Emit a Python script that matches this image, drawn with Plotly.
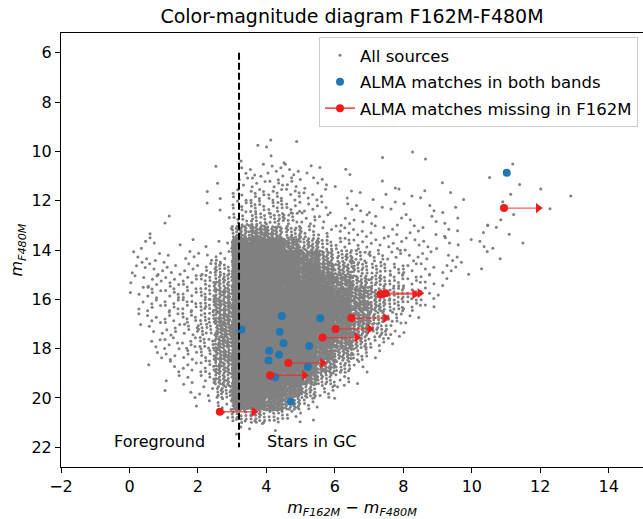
import plotly.graph_objects as go

# ---------------- data ----------------
# "All sources": approximate number of sources per cell of the colour-magnitude plane.
# Cells are 0.5 mag wide in colour (starting at -0.5) and 0.5 mag tall (starting at 9.5).
cell_color_start = -0.5
cell_color_step = 0.5
cell_mag_start = 9.5
cell_mag_step = 0.5
source_counts = [
    [0, 0, 0, 0, 0, 0, 0, 0, 1, 2, 1, 0, 0, 0, 0, 0, 0, 0, 0, 0, 0, 0, 0, 0, 0, 0, 0],
    [0, 0, 0, 0, 0, 0, 0, 1, 0, 1, 1, 0, 0, 0, 0, 1, 0, 1, 1, 0, 0, 0, 0, 0, 0, 0, 0],
    [0, 0, 0, 0, 0, 0, 1, 2, 3, 4, 4, 2, 1, 2, 0, 0, 0, 0, 0, 0, 0, 0, 0, 1, 0, 0, 0],
    [0, 0, 0, 0, 0, 0, 1, 3, 5, 6, 5, 3, 2, 1, 0, 1, 1, 0, 0, 1, 0, 0, 1, 1, 0, 0, 0],
    [0, 0, 0, 0, 0, 1, 1, 5, 8, 8, 6, 4, 2, 2, 1, 2, 1, 1, 2, 1, 1, 0, 0, 1, 0, 1, 1],
    [0, 0, 0, 0, 0, 1, 1, 7, 10, 10, 7, 4, 3, 2, 2, 2, 2, 1, 2, 1, 1, 0, 1, 0, 0, 1, 0],
    [0, 0, 0, 2, 0, 0, 1, 9, 14, 14, 10, 6, 3, 3, 3, 2, 2, 2, 2, 1, 1, 1, 1, 1, 0, 0, 0],
    [0, 0, 1, 0, 0, 0, 1, 26, 36, 30, 18, 9, 5, 4, 4, 3, 3, 3, 2, 2, 1, 2, 1, 1, 0, 0, 0],
    [0, 2, 2, 1, 1, 1, 3, 72, 95, 80, 42, 22, 12, 8, 5, 4, 4, 3, 3, 2, 2, 2, 1, 1, 0, 0, 0],
    [0, 3, 3, 2, 3, 3, 6, 105, 115, 105, 74, 46, 28, 18, 11, 8, 5, 4, 3, 2, 2, 1, 1, 0, 0, 0, 0],
    [0, 3, 4, 4, 4, 6, 14, 112, 120, 112, 90, 62, 40, 26, 17, 12, 8, 5, 4, 3, 2, 1, 0, 0, 0, 0, 0],
    [0, 3, 5, 5, 6, 10, 22, 120, 125, 120, 105, 80, 58, 40, 26, 17, 10, 6, 4, 2, 0, 0, 0, 0, 0, 0, 0],
    [0, 3, 6, 6, 7, 12, 30, 125, 130, 125, 115, 95, 75, 56, 38, 22, 13, 7, 4, 1, 0, 0, 0, 0, 0, 0, 0],
    [0, 2, 5, 7, 8, 13, 35, 125, 130, 130, 120, 105, 85, 66, 44, 25, 13, 7, 3, 0, 0, 0, 0, 0, 0, 0, 0],
    [0, 1, 4, 6, 8, 13, 35, 125, 130, 130, 120, 105, 85, 62, 38, 19, 9, 3, 0, 0, 0, 0, 0, 0, 0, 0, 0],
    [0, 1, 3, 5, 7, 12, 35, 125, 130, 130, 120, 100, 78, 52, 30, 14, 5, 1, 0, 0, 0, 0, 0, 0, 0, 0, 0],
    [0, 0, 3, 5, 6, 11, 35, 125, 130, 130, 115, 92, 65, 40, 20, 8, 2, 0, 0, 0, 0, 0, 0, 0, 0, 0, 0],
    [0, 0, 2, 4, 5, 10, 34, 125, 130, 125, 108, 82, 52, 27, 11, 2, 0, 0, 0, 0, 0, 0, 0, 0, 0, 0, 0],
    [0, 0, 1, 3, 4, 8, 30, 120, 125, 115, 95, 65, 35, 15, 4, 0, 0, 0, 0, 0, 0, 0, 0, 0, 0, 0, 0],
    [0, 0, 0, 2, 3, 6, 25, 110, 115, 98, 72, 42, 18, 6, 1, 0, 0, 0, 0, 0, 0, 0, 0, 0, 0, 0, 0],
    [0, 0, 0, 1, 2, 4, 18, 95, 98, 78, 50, 22, 7, 1, 0, 0, 0, 0, 0, 0, 0, 0, 0, 0, 0, 0, 0],
    [0, 0, 0, 0, 1, 1, 7, 60, 68, 50, 26, 7, 1, 0, 0, 0, 0, 0, 0, 0, 0, 0, 0, 0, 0, 0, 0],
    [0, 0, 0, 0, 0, 0, 2, 15, 18, 12, 6, 1, 0, 0, 0, 0, 0, 0, 0, 0, 0, 0, 0, 0, 0, 0, 0],
    [0, 0, 0, 0, 0, 0, 0, 2, 2, 1, 0, 0, 0, 0, 0, 0, 0, 0, 0, 0, 0, 0, 0, 0, 0, 0, 0],
]

# ALMA matches detected in both bands
both_color = [4.45, 5.57, 3.27, 4.39, 4.50, 5.25, 4.08, 4.37, 4.06, 5.21, 4.14, 4.26, 4.71, 11.02]
both_mag = [16.68, 16.77, 17.22, 17.32, 17.78, 17.89, 18.09, 18.25, 18.48, 18.73, 19.12, 19.16, 20.15, 10.87]

# ALMA matches missing in F162M (colour lower limits)
miss_color = [6.48, 6.02, 5.64, 4.64, 4.11, 7.33, 7.48, 2.64, 10.94]
miss_mag = [16.76, 17.20, 17.55, 18.58, 19.08, 15.79, 15.75, 20.56, 12.30]
miss_xerr = [1.0, 1.0, 1.0, 1.0, 1.0, 1.0, 1.0, 1.0, 1.0]

# Foreground / cluster divider
divider_color = 3.2
divider_mag = [6, 22]

x_ticks = [-2, 0, 2, 4, 6, 8, 10, 12, 14]
y_ticks = [6, 8, 10, 12, 14, 16, 18, 20, 22]

# ---------------- build the source cloud from the cell counts ----------------
g = 1.32471795724474602596
a1, a2 = 1.0 / g, 1.0 / (g * g)
src_x, src_y = [], []
n = 0
for j, row in enumerate(source_counts):
    for i, c in enumerate(row):
        for k in range(c):
            u = (0.5 + a1 * n) % 1.0
            v = (0.5 + a2 * n) % 1.0
            n += 1
            src_x.append(cell_color_start + cell_color_step * (i + u))
            src_y.append(cell_mag_start + cell_mag_step * (j + v))

RED = "#ee1c1c"
BLUE = "#1f77b4"

fig = go.Figure()

fig.add_trace(go.Scatter(
    x=src_x, y=src_y, mode="markers", name="All sources", legendgroup="a",
    marker=dict(color="#808080", size=3, line=dict(width=0)),
))

fig.add_trace(go.Scatter(
    x=both_color, y=both_mag, mode="markers", name="ALMA matches in both bands",
    legendgroup="b",
    marker=dict(color=BLUE, size=8, line=dict(width=0)),
))

# lower-limit bars
fig.add_trace(go.Scatter(
    x=miss_color, y=miss_mag, mode="markers", showlegend=False,
    marker=dict(color=RED, size=8, line=dict(width=0)),
    error_x=dict(type="data", symmetric=False, array=miss_xerr,
                 arrayminus=[0] * len(miss_xerr), color="rgba(240,40,40,0.75)",
                 thickness=1.3, width=0),
))
fig.add_trace(go.Scatter(
    x=[c + e for c, e in zip(miss_color, miss_xerr)], y=miss_mag, mode="markers",
    showlegend=False,
    marker=dict(color=RED, size=9, symbol="triangle-right", line=dict(width=0)),
))
# legend entry for the lower limits
fig.add_trace(go.Scatter(
    x=[None], y=[None], mode="lines+markers", name="ALMA matches missing in F162M",
    legendgroup="c",
    marker=dict(color=RED, size=8), line=dict(color=RED, width=1.3),
))

fig.add_trace(go.Scatter(
    x=[divider_color, divider_color], y=divider_mag, mode="lines", showlegend=False,
    line=dict(color="black", width=2, dash="7px,3px"),
))

fig.add_annotation(x=-0.5, y=21.76, text="Foreground", showarrow=False,
                   xanchor="left", yanchor="middle", font=dict(size=16))
fig.add_annotation(x=3.95, y=21.76, text="Stars in GC", showarrow=False,
                   xanchor="left", yanchor="middle", font=dict(size=16))

axis_common = dict(
    showgrid=False, zeroline=False, showline=True, linecolor="black", linewidth=1,
    ticks="outside", ticklen=5, tickwidth=1, tickcolor="black",
    tickfont=dict(size=16, color="black"),
)

fig.update_layout(
    width=643, height=519,
    margin=dict(l=61, r=0, t=33, b=52),
    plot_bgcolor="white", paper_bgcolor="white",
    font=dict(family="DejaVu Sans", size=16, color="black"),
    title=dict(text="Color-magnitude diagram F162M-F480M", x=352 / 643, xanchor="center",
               y=1 - 16 / 519, yanchor="middle", font=dict(size=19)),
    legend=dict(x=(638 - 61) / 582, xanchor="right", y=(467 - 37) / 434, yanchor="top",
                bordercolor="#cccccc", borderwidth=1, bgcolor="rgba(255,255,255,0.85)",
                font=dict(size=16.5), itemwidth=30, tracegroupgap=2,
                traceorder="grouped"),
    xaxis=dict(range=[-2, 15], tickvals=x_ticks, mirror=True,
               title=dict(text="<i>m</i><sub><i>F162M</i></sub> − <i>m</i><sub><i>F480M</i></sub>",
                          font=dict(size=16), standoff=6),
               **axis_common),
    yaxis=dict(range=[22.8, 5.2], tickvals=y_ticks, mirror=False,
               title=dict(text="<i>m</i><sub><i>F480M</i></sub>", font=dict(size=16), standoff=4),
               **axis_common),
)

fig.write_html("out.html")
